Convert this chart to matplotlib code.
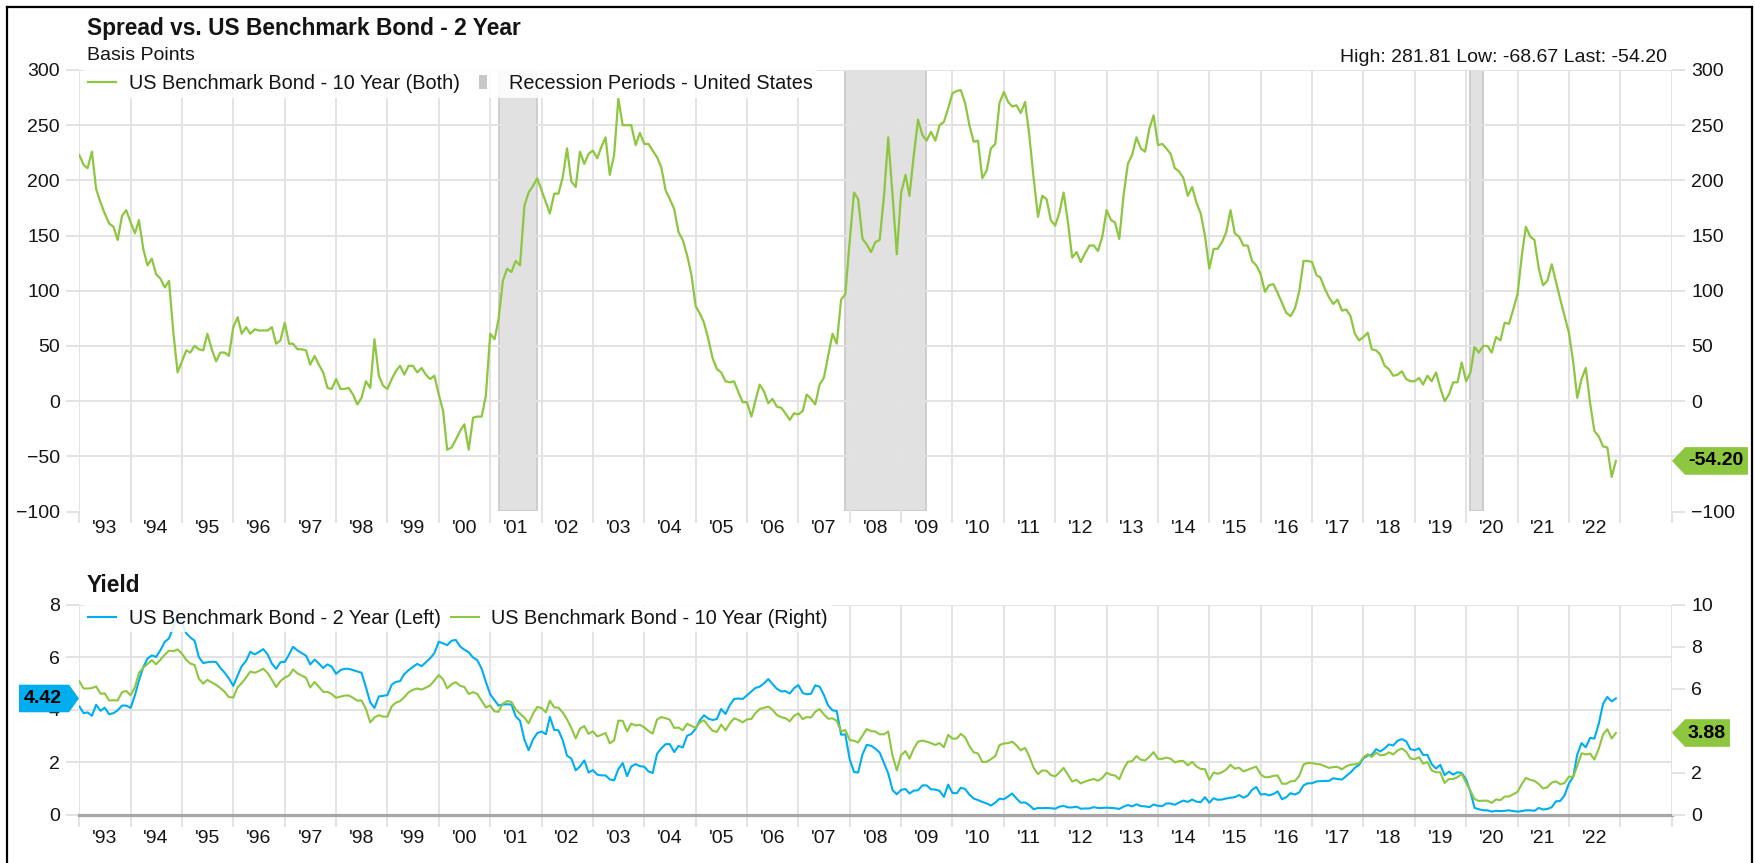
import matplotlib
matplotlib.use("Agg")
import matplotlib.pyplot as plt
import pandas as pd
from matplotlib.lines import Line2D
from matplotlib.patches import Polygon

plt.rcParams['font.family'] = ['Liberation Sans', 'DejaVu Sans']

# ---------------- data (month-end values, Jan 1993 - Dec 2022) ----------------
months = pd.date_range('1993-01-01', '2022-12-01', freq='MS')

spread_bp = [
    223, 214, 211, 226, 192, 180, 170, 161, 158, 146, 168, 173,
    162, 152, 164, 138, 123, 129, 115, 111, 103, 109, 62, 26,
    36, 46, 44, 50, 47, 46, 61, 47, 36, 44, 44, 41,
    67, 76, 61, 67, 61, 65, 64, 64, 64, 67, 52, 55,
    71, 52, 52, 47, 47, 46, 33, 41, 33, 26, 12, 11,
    20, 11, 11, 12, 6, -3, 3, 18, 12, 56, 23, 14,
    11, 20, 27, 32, 24, 32, 32, 26, 30, 24, 20, 23,
    6, -9, -44, -42, -35, -27, -21, -44, -15, -14, -14, 5,
    61, 56, 74, 109, 120, 117, 127, 123, 177, 189, 195, 202,
    191, 180, 170, 188, 188, 203, 229, 199, 194, 226, 215, 224,
    227, 220, 230, 239, 205, 223, 274, 250, 250, 250, 232, 243,
    233, 233, 227, 221, 212, 191, 183, 174, 153, 146, 132, 115,
    86, 79, 71, 56, 39, 29, 26, 18, 17, 18, 8, -1,
    -1, -14, 0, 15, 9, -2, 2, -5, -6, -11, -17, -11,
    -12, -9, 6, 2, -3, 15, 21, 41, 61, 52, 92, 97,
    145, 189, 183, 147, 142, 135, 144, 146, 186, 239, 186, 133,
    189, 205, 186, 223, 255, 241, 236, 244, 236, 250, 253, 265,
    279, 281, 281.8, 270, 250, 235, 236, 202, 209, 229, 233, 270,
    280, 271, 267, 268, 261, 271, 241, 202, 167, 186, 183, 164,
    159, 171, 189, 162, 130, 135, 126, 134, 141, 141, 136, 149,
    173, 164, 162, 147, 186, 215, 223, 239, 229, 226, 247, 259,
    232, 233, 229, 224, 211, 208, 202, 186, 194, 180, 170, 150,
    120, 138, 138, 144, 153, 173, 152, 149, 141, 141, 127, 123,
    115, 99, 105, 106, 98, 89, 80, 77, 84, 99, 127, 127,
    126, 114, 112, 102, 94, 88, 92, 82, 83, 77, 61, 55,
    58, 62, 47, 46, 42, 32, 29, 23, 24, 27, 20, 18,
    18, 21, 15, 23, 18, 26, 12, 0, 6, 17, 17, 35,
    18, 26, 49, 44, 50, 50, 44, 58, 55, 71, 70, 83,
    97, 133, 158, 149, 146, 120, 105, 109, 124, 108, 92, 77,
    62, 35, 3, 20, 30, -2, -27, -32, -41, -42, -68.67, -54.2,
]

yield_2y = [
    4.12, 3.86, 3.89, 3.76, 4.18, 3.95, 4.07, 3.82, 3.86, 3.97, 4.15, 4.15,
    4.06, 4.55, 5.10, 5.61, 5.94, 6.06, 6.00, 6.26, 6.58, 6.71, 7.16, 7.60,
    7.30, 6.90, 6.75, 6.62, 6.00, 5.77, 5.80, 5.82, 5.81, 5.58, 5.40, 5.18,
    4.90, 5.30, 5.65, 5.85, 6.20, 6.10, 6.19, 6.30, 6.10, 5.75, 5.55, 5.80,
    5.81, 6.10, 6.39, 6.25, 6.15, 6.05, 5.72, 5.90, 5.75, 5.58, 5.72, 5.63,
    5.36, 5.50, 5.55, 5.55, 5.50, 5.45, 5.40, 4.85, 4.27, 4.06, 4.50, 4.52,
    4.55, 4.95, 5.05, 5.08, 5.35, 5.50, 5.62, 5.74, 5.65, 5.80, 5.95, 6.15,
    6.58, 6.52, 6.45, 6.62, 6.65, 6.40, 6.28, 6.18, 5.98, 5.88, 5.55, 5.05,
    4.58, 4.35, 4.15, 4.19, 4.20, 4.19, 3.74, 3.57, 2.85, 2.45, 2.85, 3.10,
    3.16, 3.06, 3.72, 3.22, 3.21, 2.82, 2.24, 2.13, 1.68, 1.83, 2.06, 1.60,
    1.69, 1.52, 1.49, 1.49, 1.34, 1.30, 1.73, 1.96, 1.46, 1.83, 1.92, 1.84,
    1.82, 1.64, 1.58, 2.31, 2.52, 2.68, 2.68, 2.38, 2.61, 2.55, 3.00, 3.07,
    3.27, 3.60, 3.78, 3.65, 3.60, 3.64, 4.02, 3.83, 4.17, 4.40, 4.42, 4.40,
    4.54, 4.69, 4.82, 4.87, 4.99, 5.16, 4.97, 4.79, 4.69, 4.70, 4.61, 4.81,
    4.93, 4.63, 4.58, 4.60, 4.92, 4.87, 4.56, 4.15, 3.97, 3.94, 3.04, 3.05,
    2.10, 1.62, 1.60, 2.29, 2.65, 2.62, 2.51, 2.36, 1.96, 1.56, 0.93, 0.77,
    0.94, 0.97, 0.80, 0.91, 0.92, 1.11, 1.11, 0.96, 0.95, 0.90, 0.67, 1.14,
    0.82, 0.81, 1.02, 0.97, 0.76, 0.61, 0.55, 0.48, 0.42, 0.34, 0.45, 0.60,
    0.58, 0.69, 0.80, 0.61, 0.45, 0.46, 0.36, 0.20, 0.25, 0.24, 0.25, 0.24,
    0.22, 0.30, 0.33, 0.27, 0.27, 0.30, 0.22, 0.23, 0.23, 0.28, 0.25, 0.25,
    0.26, 0.25, 0.24, 0.21, 0.30, 0.36, 0.31, 0.39, 0.32, 0.31, 0.28, 0.38,
    0.33, 0.32, 0.42, 0.42, 0.37, 0.46, 0.53, 0.48, 0.57, 0.49, 0.47, 0.66,
    0.45, 0.62, 0.56, 0.57, 0.61, 0.64, 0.66, 0.74, 0.64, 0.72, 0.94, 1.05,
    0.76, 0.78, 0.73, 0.78, 0.88, 0.58, 0.66, 0.81, 0.76, 0.84, 1.11, 1.19,
    1.19, 1.26, 1.27, 1.28, 1.28, 1.38, 1.35, 1.33, 1.47, 1.60, 1.78, 1.89,
    2.14, 2.25, 2.27, 2.49, 2.40, 2.52, 2.67, 2.63, 2.81, 2.87, 2.79, 2.49,
    2.45, 2.52, 2.27, 2.27, 1.92, 1.75, 1.89, 1.50, 1.63, 1.52, 1.61, 1.58,
    1.33, 0.86, 0.25, 0.20, 0.16, 0.16, 0.11, 0.14, 0.13, 0.14, 0.16, 0.13,
    0.11, 0.13, 0.16, 0.16, 0.14, 0.25, 0.19, 0.21, 0.28, 0.50, 0.52, 0.73,
    1.18, 1.44, 2.28, 2.72, 2.56, 2.92, 2.89, 3.45, 4.22, 4.48, 4.31, 4.42,
]

yield_10y = [
    6.35, 6.00, 6.00, 6.02, 6.10, 5.75, 5.77, 5.43, 5.44, 5.43, 5.83, 5.88,
    5.68, 6.07, 6.74, 6.99, 7.17, 7.35, 7.15, 7.37, 7.61, 7.80, 7.78, 7.86,
    7.66, 7.36, 7.19, 7.12, 6.47, 6.23, 6.41, 6.29, 6.17, 6.02, 5.84, 5.59,
    5.57, 6.06, 6.26, 6.52, 6.81, 6.75, 6.83, 6.94, 6.74, 6.42, 6.07, 6.35,
    6.52, 6.62, 6.91, 6.72, 6.62, 6.51, 6.05, 6.31, 6.08, 5.84, 5.84, 5.74,
    5.56, 5.61, 5.66, 5.67, 5.56, 5.42, 5.43, 5.03, 4.39, 4.62, 4.73, 4.66,
    4.66, 5.15, 5.32, 5.40, 5.59, 5.82, 5.94, 6.00, 5.95, 6.04, 6.15, 6.38,
    6.64, 6.43, 6.01, 6.20, 6.30, 6.13, 6.07, 5.74, 5.83, 5.74, 5.41, 5.10,
    5.19, 4.91, 4.89, 5.28, 5.40, 5.36, 5.01, 4.80, 4.62, 4.34, 4.80, 5.12,
    5.07, 4.86, 5.42, 5.10, 5.09, 4.85, 4.53, 4.12, 3.62, 4.09, 4.21, 3.84,
    3.96, 3.72, 3.79, 3.88, 3.39, 3.53, 4.47, 4.46, 3.96, 4.33, 4.24, 4.27,
    4.15, 3.97, 3.85, 4.52, 4.64, 4.59, 4.51, 4.12, 4.14, 4.01, 4.32, 4.22,
    4.13, 4.39, 4.49, 4.21, 3.99, 3.93, 4.28, 4.01, 4.34, 4.58, 4.50, 4.39,
    4.53, 4.55, 4.82, 5.02, 5.08, 5.14, 4.99, 4.74, 4.63, 4.59, 4.44, 4.70,
    4.81, 4.54, 4.64, 4.62, 4.89, 5.02, 4.77, 4.56, 4.58, 4.46, 3.96, 4.02,
    3.55, 3.51, 3.43, 3.76, 4.07, 3.97, 3.95, 3.82, 3.82, 3.95, 2.79, 2.10,
    2.83, 3.02, 2.66, 3.14, 3.47, 3.52, 3.47, 3.40, 3.31, 3.40, 3.20, 3.79,
    3.61, 3.62, 3.84, 3.67, 3.26, 2.96, 2.91, 2.50, 2.51, 2.63, 2.78, 3.30,
    3.38, 3.40, 3.47, 3.29, 3.06, 3.17, 2.77, 2.22, 1.92, 2.10, 2.08, 1.88,
    1.81, 2.01, 2.22, 1.89, 1.57, 1.65, 1.48, 1.57, 1.64, 1.69, 1.61, 1.74,
    1.99, 1.89, 1.86, 1.68, 2.16, 2.51, 2.54, 2.78, 2.61, 2.57, 2.75, 2.97,
    2.65, 2.65, 2.71, 2.66, 2.48, 2.54, 2.55, 2.34, 2.51, 2.29, 2.17, 2.16,
    1.65, 2.00, 1.94, 2.01, 2.14, 2.37, 2.18, 2.23, 2.05, 2.13, 2.21, 2.28,
    1.91, 1.77, 1.78, 1.84, 1.86, 1.47, 1.46, 1.58, 1.60, 1.83, 2.38, 2.46,
    2.45, 2.40, 2.39, 2.30, 2.22, 2.26, 2.27, 2.15, 2.30, 2.37, 2.39, 2.44,
    2.72, 2.87, 2.74, 2.95, 2.82, 2.84, 2.96, 2.86, 3.05, 3.14, 2.99, 2.67,
    2.63, 2.73, 2.42, 2.50, 2.10, 2.01, 2.01, 1.50, 1.69, 1.69, 1.78, 1.93,
    1.51, 1.12, 0.74, 0.64, 0.66, 0.66, 0.55, 0.72, 0.68, 0.85, 0.86, 0.96,
    1.08, 1.46, 1.74, 1.65, 1.60, 1.45, 1.24, 1.30, 1.52, 1.58, 1.44, 1.50,
    1.80, 1.79, 2.31, 2.92, 2.86, 2.90, 2.62, 3.13, 3.81, 4.06, 3.62, 3.88,
]

recession_starts = ['2001-03-01', '2007-12-01', '2020-02-01']
recession_ends = ['2001-11-30', '2009-06-30', '2020-04-30']

years = list(range(1993, 2023))
year_labels = ["'" + str(y)[2:] for y in years]

spread_high, spread_low, spread_last = 281.81, -68.67, -54.20
last_2y, last_10y = 4.42, 3.88

# ---------------- styling ----------------
W, H, DPI = 1756, 863, 100
GREEN = '#8dc63f'
BLUE = '#00aeef'
GRID = '#e3e3e3'
TXT = '#141414'
REC_FILL = '#e1e1e1'
REC_EDGE = '#cbcbcb'
FS = 14
LFS = 14.3

fig = plt.figure(figsize=(W / DPI, H / DPI), dpi=DPI)
fig.patch.set_facecolor('white')


def fx(px):
    return px / W


def fyf(py):
    return 1 - py / H


AX_L, AX_R = 79, 1672
TOP_T, TOP_B = 70, 511.5
BOT_T, BOT_B = 604.5, 814.5

ax_top = fig.add_axes([fx(AX_L), fyf(TOP_B), fx(AX_R - AX_L), (TOP_B - TOP_T) / H])
ax_bot = fig.add_axes([fx(AX_L), fyf(BOT_B), fx(AX_R - AX_L), (BOT_B - BOT_T) / H])
ax_bot2 = ax_bot.twinx()

major_ticks = [pd.Timestamp(f'{y}-01-01') for y in range(1993, 2025)]
minor_ticks = [pd.Timestamp(f'{y}-07-01') for y in years]
x_left = pd.Timestamp('1992-12-30')
x_right = pd.Timestamp('2024-01-04')


def style_x(ax, label_pad):
    ax.set_xlim(x_left, x_right)
    ax.set_xticks(major_ticks)
    ax.set_xticklabels([''] * len(major_ticks))
    ax.set_xticks(minor_ticks, minor=True)
    ax.set_xticklabels(year_labels, minor=True)
    ax.tick_params(axis='x', which='major', length=8.6, width=1.4, color=GRID, direction='out')
    ax.tick_params(axis='x', which='minor', length=0, pad=label_pad, labelsize=FS, labelcolor=TXT)
    ax.grid(True, axis='x', which='major', color=GRID, lw=1.4)


for a in (ax_top, ax_bot, ax_bot2):
    for s in a.spines.values():
        s.set_visible(False)

# ---- top panel ----
style_x(ax_top, 6.0)
ax_top.set_axisbelow(True)
ax_top.set_ylim(-100, 300)
ax_top.set_yticks(range(-100, 301, 50))
ax_top.tick_params(axis='y', length=9.4, width=1.4, color=GRID, direction='out',
                   left=True, right=True, labelleft=True, labelright=True,
                   labelsize=FS, labelcolor=TXT, pad=4.5)
ax_top.grid(True, axis='y', color=GRID, lw=1.4)
for s, e in zip(recession_starts, recession_ends):
    ax_top.axvspan(pd.Timestamp(s), pd.Timestamp(e), facecolor=REC_FILL,
                   edgecolor=REC_EDGE, lw=1.3, zorder=0.3)
ax_top.plot(months, spread_bp, color=GREEN, lw=1.6, zorder=3)

rect_marker = [(-0.3, -0.5), (0.3, -0.5), (0.3, 0.5), (-0.3, 0.5), (-0.3, -0.5)]
top_handles = [Line2D([], [], color=GREEN, lw=1.6),
               Line2D([], [], marker=rect_marker, ls='none', color='#c8c8c8',
                      markersize=10, markeredgewidth=0)]
leg = ax_top.legend(top_handles,
                    ['US Benchmark Bond - 10 Year (Both)', 'Recession Periods - United States'],
                    loc='upper left', bbox_to_anchor=(0.003, 1.0), ncol=2, frameon=True,
                    fancybox=False, edgecolor='none', facecolor='white', framealpha=0.88,
                    fontsize=LFS, handlelength=1.42, handletextpad=0.62, columnspacing=0.45,
                    borderpad=0.22, borderaxespad=0.0)
for t in leg.get_texts():
    t.set_color(TXT)

# ---- bottom panel ----
style_x(ax_bot, 11.5)
ax_bot.set_axisbelow(True)
ax_bot.set_ylim(0, 8)
ax_bot.set_yticks([0, 2, 4, 6, 8])
ax_bot.tick_params(axis='y', length=9.4, width=1.4, color=GRID, direction='out',
                   left=True, right=False, labelleft=True, labelright=False,
                   labelsize=FS, labelcolor=TXT, pad=4.5)
ax_bot.grid(True, axis='y', color=GRID, lw=1.4)
ax_bot.axhline(0, color='#a6a6a6', lw=2.3, clip_on=False, zorder=1.5)
ax_bot.plot(months, yield_2y, color=BLUE, lw=1.5, zorder=3)

ax_bot2.set_ylim(0, 10)
ax_bot2.set_yticks([0, 2, 4, 6, 8, 10])
ax_bot2.tick_params(axis='y', length=9.4, width=1.4, color=GRID, direction='out',
                    left=False, right=True, labelleft=False, labelright=True,
                    labelsize=FS, labelcolor=TXT, pad=4.5)
ax_bot2.plot(months, yield_10y, color=GREEN, lw=1.5, zorder=3)

bot_handles = [Line2D([], [], color=BLUE, lw=1.5), Line2D([], [], color=GREEN, lw=1.5)]
leg2 = ax_bot2.legend(bot_handles,
                      ['US Benchmark Bond - 2 Year (Left)', 'US Benchmark Bond - 10 Year (Right)'],
                      loc='upper left', bbox_to_anchor=(0.003, 1.0), ncol=2, frameon=True,
                      fancybox=False, edgecolor='none', facecolor='white', framealpha=0.85,
                      fontsize=LFS, handlelength=1.42, handletextpad=0.62, columnspacing=0.5,
                      borderpad=0.22, borderaxespad=0.0)
for t in leg2.get_texts():
    t.set_color(TXT)

# ---- titles / annotations ----
fig.text(fx(87), fyf(35), 'Spread vs. US Benchmark Bond - 2 Year', fontsize=16.4,
         fontweight='bold', color=TXT, va='baseline', ha='left')
fig.text(fx(87), fyf(60.5), 'Basis Points', fontsize=FS, color=TXT, va='baseline', ha='left')
fig.text(fx(1667), fyf(61.5),
         f'High: {spread_high:.2f} Low: {spread_low:.2f} Last: {spread_last:.2f}',
         fontsize=FS, color=TXT, va='baseline', ha='right')
fig.text(fx(87), fyf(591.5), 'Yield', fontsize=16.4, fontweight='bold', color=TXT,
         va='baseline', ha='left')


# ---- value badges ----
def badge(ax, value, text, color, side, x_far, text_x):
    yc = ax.transData.transform((0, value))[1]  # display px from bottom
    half = 13.8
    if side == 'right':
        tip = AX_R
        base = tip + 13
    else:
        tip = AX_L
        base = tip - 10
    pts = [(tip, yc), (base, yc + half), (x_far, yc + half), (x_far, yc - half), (base, yc - half)]
    poly = Polygon([(x / W, y / H) for x, y in pts], closed=True, transform=fig.transFigure,
                   facecolor=color, edgecolor='none', zorder=10)
    fig.add_artist(poly)
    fig.text(text_x / W, yc / H, text, fontsize=FS, fontweight='bold', color='black',
             ha='center', va='center', zorder=11)


badge(ax_top, spread_last, f'{spread_last:.2f}', GREEN, 'right', 1748, 1716)
badge(ax_bot2, last_10y, f'{last_10y:.2f}', GREEN, 'right', 1730, 1707)
badge(ax_bot, last_2y, f'{last_2y:.2f}', BLUE, 'left', 19, 43)

# ---- outer frame (top, left, right) ----
frame_segments = [((7, 7), (7, H)), ((7, 1752.5), (7, 7)), ((1752.5, 1752.5), (7, H))]
for xs, ys in frame_segments:
    fig.add_artist(Line2D([fx(xs[0]), fx(xs[1])], [fyf(ys[0]), fyf(ys[1])],
                          transform=fig.transFigure, color='black', lw=1.6))

fig.savefig('out.png', dpi=DPI, facecolor='white')
